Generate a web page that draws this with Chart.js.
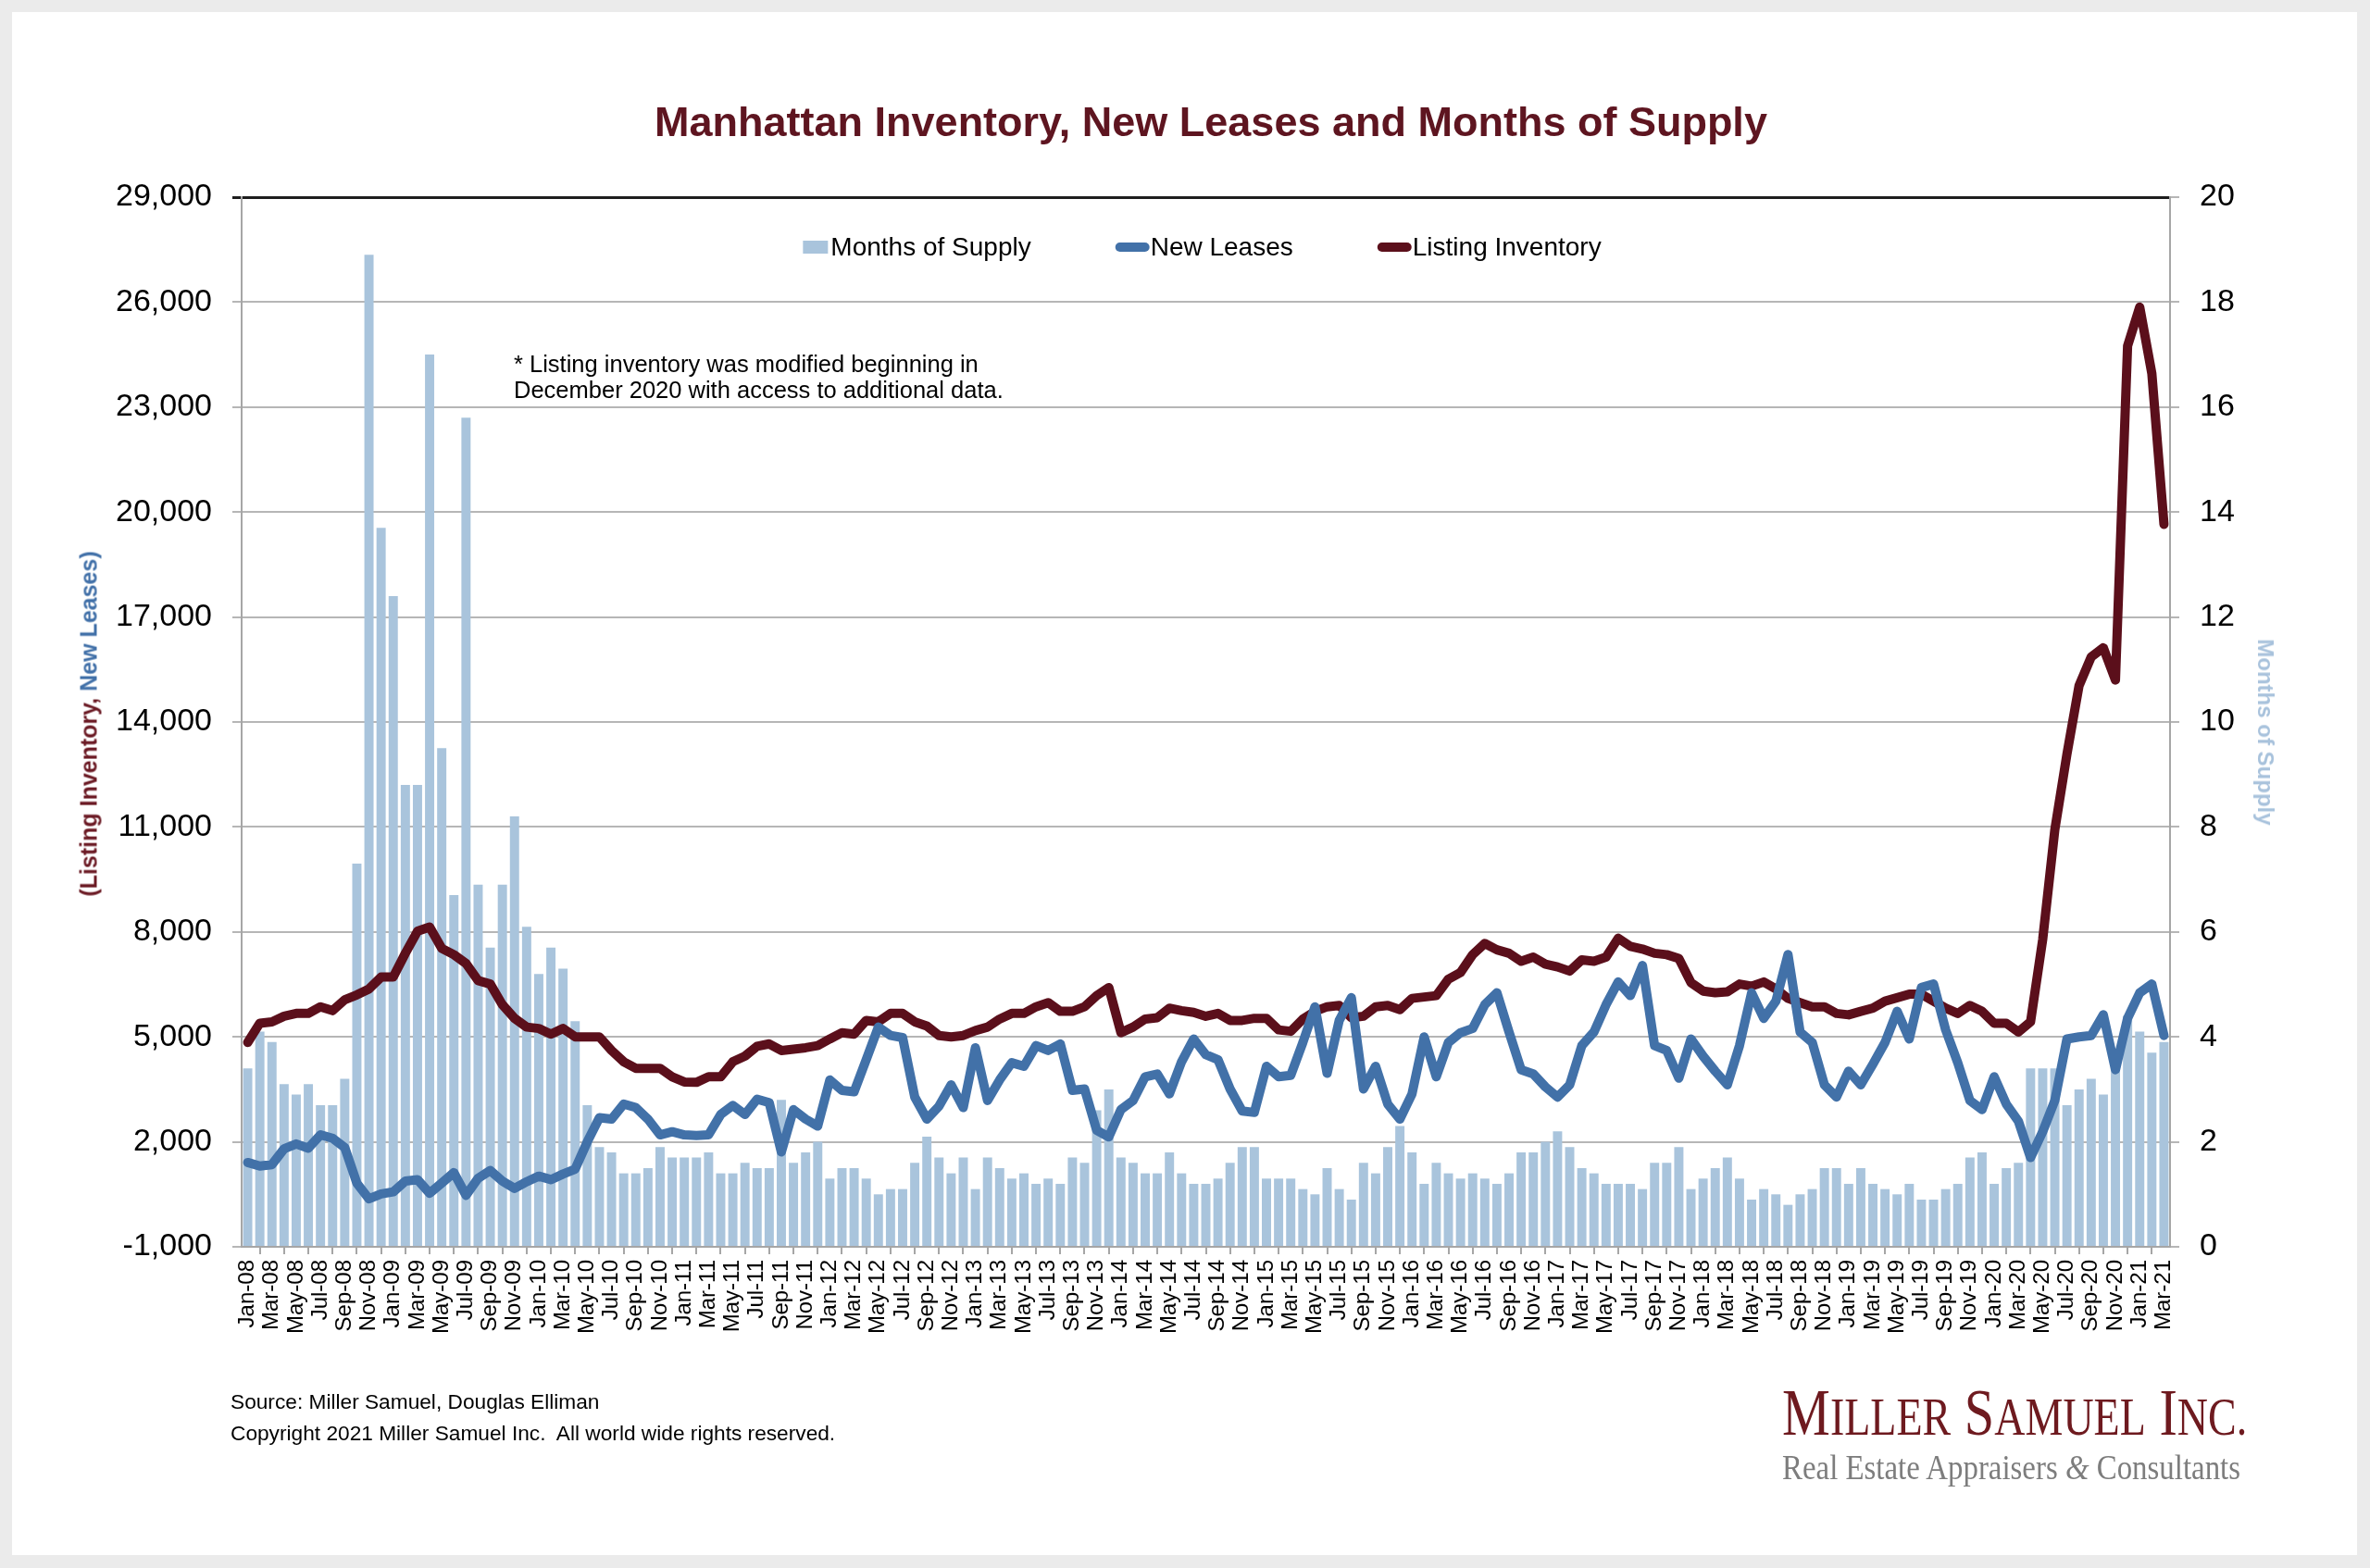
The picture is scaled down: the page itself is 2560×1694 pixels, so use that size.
<!DOCTYPE html>
<html>
<head>
<meta charset="utf-8">
<title>Manhattan Inventory, New Leases and Months of Supply</title>
<script src="https://cdn.jsdelivr.net/npm/chart.js@4.4.0/dist/chart.umd.min.js"></script>
<style>
  html, body { margin: 0; padding: 0; background: #ebebeb; }
  #page { position: relative; width: 2560px; height: 1694px; overflow: hidden; }
  #card { position: absolute; left: 13px; top: 13px; width: 2533px; height: 1667px; background: #fff; }
  #chart { position: absolute; left: 0; top: 0; }
  .txt { position: absolute; font-family: "Liberation Sans", Arial, sans-serif; line-height: 1; white-space: pre; }
  .serif { position: absolute; font-family: "Liberation Serif", "Times New Roman", serif; line-height: 1; white-space: pre; transform-origin: 0 0; }
</style>
</head>
<body>
<div id="page">
  <div id="card"></div>
  <canvas id="chart" width="2560" height="1694"></canvas>

  <div class="txt" id="title" style="left:1308px; top:109px; transform:translateX(-50%); font-size:45px; font-weight:bold; color:#5e1520;">Manhattan Inventory, New Leases and Months of Supply</div>

  <div class="txt" style="left:555px; top:379px; font-size:25.5px; line-height:28px; color:#000;">* Listing inventory was modified beginning in
December 2020 with access to additional data.</div>

  <div class="txt" style="left:96px; top:782px; transform:translate(-50%,-50%) rotate(-90deg); font-size:25px; font-weight:bold;"><span style="color:#6b1a24;">(Listing Inventory, </span><span style="color:#4170a8;">New Leases)</span></div>

  <div class="txt" style="left:2447px; top:791px; transform:translate(-50%,-50%) rotate(90deg); font-size:24px; font-weight:bold; color:#a8c2dc;">Months of Supply</div>

  <div class="txt" style="left:249px; top:1503px; font-size:22.7px; color:#000;">Source: Miller Samuel, Douglas Elliman</div>
  <div class="txt" style="left:249px; top:1537px; font-size:22.7px; color:#000;">Copyright 2021 Miller Samuel Inc.  All world wide rights reserved.</div>

  <div class="serif fit" data-w="502" style="left:1925px; top:1491px; font-size:71px; color:#6e1a1f;">M<span style="font-size:56px;">ILLER</span> S<span style="font-size:56px;">AMUEL</span> I<span style="font-size:56px;">NC.</span></div>
  <div class="serif fit" data-w="495" style="left:1925px; top:1566px; font-size:38px; color:#7d7d7d;">Real Estate Appraisers <i>&amp;</i> Consultants</div>
</div>

<script>
// month labels Jan-08 .. Mar-21
const monthNames = ['Jan','Feb','Mar','Apr','May','Jun','Jul','Aug','Sep','Oct','Nov','Dec'];
const categories = [];
for (let y = 8; y <= 21; y++) {
  for (let m = 0; m < 12; m++) {
    if (y === 21 && m > 2) break;
    categories.push(monthNames[m] + '-' + String(y).padStart(2, '0'));
  }
}

// right axis, bars
const monthsOfSupply = [
  3.4, 4.1, 3.9, 3.1, 2.9, 3.1, 2.7, 2.7, 3.2, 7.3,
  18.9, 13.7, 12.4, 8.8, 8.8, 17.0, 9.5, 6.7, 15.8, 6.9,
  5.7, 6.9, 8.2, 6.1, 5.2, 5.7, 5.3, 4.3, 2.7, 1.9,
  1.8, 1.4, 1.4, 1.5, 1.9, 1.7, 1.7, 1.7, 1.8, 1.4,
  1.4, 1.6, 1.5, 1.5, 2.8, 1.6, 1.8, 2.0, 1.3, 1.5,
  1.5, 1.3, 1.0, 1.1, 1.1, 1.6, 2.1, 1.7, 1.4, 1.7,
  1.1, 1.7, 1.5, 1.3, 1.4, 1.2, 1.3, 1.2, 1.7, 1.6,
  2.6, 3.0, 1.7, 1.6, 1.4, 1.4, 1.8, 1.4, 1.2, 1.2,
  1.3, 1.6, 1.9, 1.9, 1.3, 1.3, 1.3, 1.1, 1.0, 1.5,
  1.1, 0.9, 1.6, 1.4, 1.9, 2.3, 1.8, 1.2, 1.6, 1.4,
  1.3, 1.4, 1.3, 1.2, 1.4, 1.8, 1.8, 2.0, 2.2, 1.9,
  1.5, 1.4, 1.2, 1.2, 1.2, 1.1, 1.6, 1.6, 1.9, 1.1,
  1.3, 1.5, 1.7, 1.3, 0.9, 1.1, 1.0, 0.8, 1.0, 1.1,
  1.5, 1.5, 1.2, 1.5, 1.2, 1.1, 1.0, 1.2, 0.9, 0.9,
  1.1, 1.2, 1.7, 1.8, 1.2, 1.5, 1.6, 3.4, 3.4, 3.4,
  2.7, 3.0, 3.2, 2.9, 3.4, 4.4, 4.1, 3.7, 3.9
];

// left axis
const newLeases = [
  1410, 1310, 1350, 1800, 1940, 1820, 2200, 2100, 1840, 820,
  370, 510, 570, 880, 920, 530, 820, 1120, 470, 960,
  1180, 880, 670, 860, 1020, 920, 1080, 1220, 2000, 2690,
  2650, 3080, 2980, 2650, 2200, 2290, 2200, 2180, 2200, 2780,
  3040, 2780, 3220, 3120, 1710, 2920, 2650, 2450, 3770, 3470,
  3430, 4350, 5280, 5040, 4980, 3280, 2650, 3020, 3630, 2980,
  4690, 3180, 3770, 4260, 4160, 4750, 4610, 4800, 3470, 3510,
  2330, 2140, 2920, 3180, 3860, 3940, 3370, 4290, 4940, 4490,
  4350, 3510, 2880, 2840, 4160, 3860, 3900, 4840, 5860, 3960,
  5470, 6120, 3510, 4160, 3080, 2650, 3370, 5000, 3860, 4840,
  5120, 5240, 5920, 6260, 5140, 4060, 3940, 3570, 3280, 3630,
  4750, 5140, 5920, 6570, 6180, 7040, 4750, 4610, 3820, 4940,
  4450, 4020, 3630, 4750, 6260, 5530, 6020, 7350, 5140, 4840,
  3630, 3280, 4020, 3630, 4220, 4840, 5730, 4940, 6410, 6510,
  5200, 4260, 3180, 2920, 3860, 3080, 2590, 1550, 2290, 3180,
  4940, 5000, 5040, 5630, 4060, 5530, 6260, 6510, 5040
];

const listingInventory = [
  4840, 5390, 5430, 5590, 5670, 5670, 5860, 5750, 6060, 6200,
  6370, 6710, 6710, 7390, 8020, 8140, 7530, 7350, 7100, 6610,
  6510, 5920, 5530, 5280, 5240, 5080, 5240, 5000, 5000, 5000,
  4610, 4290, 4100, 4100, 4100, 3860, 3710, 3700, 3860, 3860,
  4290, 4450, 4730, 4800, 4610, 4650, 4690, 4750, 4940, 5120,
  5080, 5470, 5430, 5670, 5670, 5430, 5310, 5040, 5000, 5040,
  5180, 5280, 5510, 5670, 5670, 5860, 5980, 5730, 5730, 5860,
  6180, 6410, 5120, 5280, 5510, 5550, 5820, 5750, 5700, 5590,
  5670, 5470, 5470, 5530, 5530, 5200, 5160, 5510, 5730, 5860,
  5900, 5550, 5590, 5860, 5900, 5780, 6100, 6140, 6180, 6650,
  6840, 7350, 7670, 7490, 7390, 7160, 7280, 7080, 7000, 6880,
  7200, 7160, 7280, 7820, 7590, 7510, 7390, 7350, 7240, 6550,
  6310, 6260, 6290, 6510, 6450, 6570, 6370, 6100, 5980, 5860,
  5860, 5670, 5630, 5730, 5820, 6020, 6120, 6220, 6220, 6020,
  5820, 5670, 5900, 5730, 5390, 5390, 5140, 5430, 7780, 10920,
  13080, 15040, 15860, 16120, 15200, 24750, 25860, 23960, 19650
];

const leftTicks = { min: -1000, max: 29000, step: 3000 };
const rightTicks = { min: 0, max: 20, step: 2 };

Chart.defaults.font.family = '"Liberation Sans", Arial, sans-serif';
Chart.defaults.color = '#000';

// legend drawn inside the plot, under the top border
const legendInside = {
  id: 'legendInside',
  afterDraw(chart) {
    const ctx = chart.ctx, area = chart.chartArea;
    ctx.save();
    ctx.font = '28px "Liberation Sans", Arial, sans-serif';
    const items = chart.data.datasets.map(ds => ({
      label: ds.label,
      bar: ds.type === 'bar',
      color: ds.type === 'bar' ? ds.backgroundColor : ds.borderColor,
      mw: ds.type === 'bar' ? 27 : 35,
      tw: ctx.measureText(ds.label).width
    }));
    const gap = 3, space = 91;
    let total = 0;
    items.forEach((it, i) => { total += it.mw + gap + it.tw + (i ? space : 0); });
    let x = (area.left + area.right) / 2 - 4 - total / 2;
    const y = area.top + 54;
    items.forEach(it => {
      if (it.bar) {
        ctx.fillStyle = it.color;
        ctx.fillRect(x, y - 7, it.mw, 14);
      } else {
        ctx.strokeStyle = it.color;
        ctx.lineWidth = 10;
        ctx.lineCap = 'round';
        ctx.beginPath();
        ctx.moveTo(x + 5, y);
        ctx.lineTo(x + it.mw - 3, y);
        ctx.stroke();
      }
      ctx.fillStyle = '#000';
      ctx.textBaseline = 'middle';
      ctx.fillText(it.label, x + it.mw + gap, y + 1);
      x += it.mw + gap + it.tw + space;
    });
    ctx.restore();
  }
};

new Chart(document.getElementById('chart'), {
  type: 'bar',
  data: {
    labels: categories,
    datasets: [
      {
        type: 'bar',
        label: 'Months of Supply',
        data: monthsOfSupply,
        yAxisID: 'y1',
        backgroundColor: '#a9c4dc',
        barPercentage: 0.76,
        categoryPercentage: 1,
        order: 3
      },
      {
        type: 'line',
        label: 'New Leases',
        data: newLeases,
        yAxisID: 'y',
        borderColor: '#4271a8',
        backgroundColor: '#4271a8',
        borderWidth: 10,
        pointRadius: 0,
        tension: 0,
        borderJoinStyle: 'round',
        borderCapStyle: 'round',
        order: 1
      },
      {
        type: 'line',
        label: 'Listing Inventory',
        data: listingInventory,
        yAxisID: 'y',
        borderColor: '#5b0f1b',
        backgroundColor: '#5b0f1b',
        borderWidth: 10,
        pointRadius: 0,
        tension: 0,
        borderJoinStyle: 'round',
        borderCapStyle: 'round',
        order: 2
      }
    ]
  },
  options: {
    responsive: false,
    animation: false,
    layout: { padding: { left: 100, right: 110, top: 213, bottom: 217 } },
    plugins: {
      legend: { display: false },
      tooltip: { enabled: false }
    },
    scales: {
      x: {
        type: 'category',
        offset: true,
        grid: { offset: true, drawOnChartArea: false, drawTicks: true, tickLength: 8, color: '#a6a6a6', lineWidth: 2 },
        border: { display: true, color: '#a6a6a6', width: 2 },
        ticks: {
          autoSkip: false,
          minRotation: 90,
          maxRotation: 90,
          padding: 6,
          font: { size: 24 },
          color: '#000',
          callback: (v, i) => (i % 2 === 0 ? categories[i] : null)
        },
        afterFit(s) { s.height = 130; s.paddingLeft = 0; s.paddingRight = 0; }
      },
      y: {
        position: 'left',
        min: leftTicks.min,
        max: leftTicks.max,
        ticks: {
          stepSize: leftTicks.step,
          padding: 22,
          font: { size: 34 },
          color: '#000',
          callback: v => Number(v).toLocaleString('en-US')
        },
        grid: {
          drawTicks: true,
          tickLength: 10,
          color: c => (c.tick && c.tick.value === leftTicks.max ? '#1e1e1e' : '#b6b6b6'),
          lineWidth: c => (c.tick && c.tick.value === leftTicks.max ? 3 : 2)
        },
        border: { display: true, color: '#a6a6a6', width: 2 },
        afterFit(s) { s.width = 161; s.paddingTop = 0; s.paddingBottom = 0; }
      },
      y1: {
        position: 'right',
        min: rightTicks.min,
        max: rightTicks.max,
        ticks: {
          stepSize: rightTicks.step,
          padding: 22,
          font: { size: 34 },
          color: '#000'
        },
        grid: { drawOnChartArea: false, drawTicks: true, tickLength: 10, color: '#b6b6b6', lineWidth: 2 },
        border: { display: true, color: '#a6a6a6', width: 2 },
        afterFit(s) { s.width = 106; s.paddingTop = 0; s.paddingBottom = 0; }
      }
    }
  },
  plugins: [legendInside]
});

// squeeze the logo lines to the width they have in the picture
document.querySelectorAll('.fit').forEach(el => {
  const w = el.offsetWidth;
  const target = Number(el.dataset.w);
  if (w > 0) el.style.transform = 'scaleX(' + (target / w).toFixed(4) + ')';
});
</script>
</body>
</html>
